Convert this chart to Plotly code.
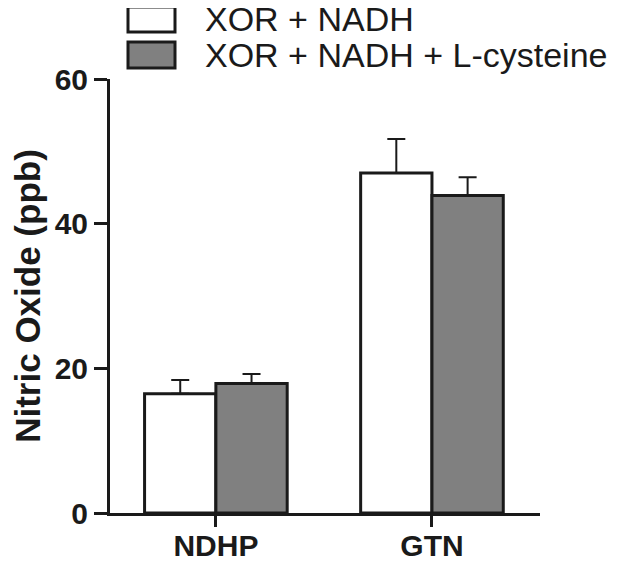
import plotly.graph_objects as go

categories = ["NDHP", "GTN"]
series_names = ["XOR + NADH", "XOR + NADH + L-cysteine"]
xor_nadh = [16.5, 47.0]
xor_nadh_err = [1.9, 4.7]
xor_nadh_cys = [17.9, 43.9]
xor_nadh_cys_err = [1.3, 2.5]
y_ticks = [0, 20, 40, 60]

# page body has an 8px margin, so the figure is drawn 8px in from the window edge
OFF = 8
W, H = 625 - OFF, 569 - OFF
L, R, T, B = 110 - OFF, 85, 79 - OFF, 56
ink = "#1a1a1a"
font = "Arial, Liberation Sans, sans-serif"


def px(x, y):
    # window pixel -> paper coordinates
    x, y = x - OFF, y - OFF
    return (x - L) / (W - L - R), (H - B - y) / (H - T - B)


fig = go.Figure()
fills = ["white", "#808080"]
vals = [xor_nadh, xor_nadh_cys]
errs = [xor_nadh_err, xor_nadh_cys_err]
for name, v, e, c in zip(series_names, vals, errs, fills):
    fig.add_bar(
        x=categories, y=v, name=name,
        marker=dict(color=c, line=dict(color=ink, width=3)),
        error_y=dict(type="data", array=e, arrayminus=[0] * len(e), symmetric=False,
                     color=ink, thickness=2, width=9),
        showlegend=False,
    )

# legend drawn by hand so the boxes get the reference size
rows = [(7, 32), (42, 68)]
for (y0, y1), name, c in zip(rows, series_names, fills):
    a0, b0 = px(128, y1)
    a1, b1 = px(175, y0)
    fig.add_shape(type="rect", xref="paper", yref="paper", x0=a0, x1=a1, y0=b0, y1=b1,
                  fillcolor=c, line=dict(color=ink, width=3))
    tx, ty = px(203, (y0 + y1) / 2)
    fig.add_annotation(xref="paper", yref="paper", x=tx, y=ty, text=name, showarrow=False,
                       xanchor="left", yanchor="middle",
                       font=dict(family=font, size=34, color=ink))

fig.update_layout(
    width=W, height=H,
    margin=dict(l=L, r=R, t=T, b=B),
    paper_bgcolor="white", plot_bgcolor="white",
    barmode="group", bargap=0.34, bargroupgap=0,
    font=dict(family=font, color=ink),
)
fig.update_xaxes(
    type="category", range=[-0.49, 1.5], automargin=False,
    showline=True, linecolor=ink, linewidth=3,
    ticks="outside", ticklen=11, tickwidth=3, tickcolor=ink,
    tickfont=dict(size=30, family=font, weight="bold"),
    ticklabelstandoff=-7,
    showgrid=False, zeroline=False,
)
fig.update_yaxes(
    range=[0, 60], tickvals=y_ticks, automargin=False,
    showline=True, linecolor=ink, linewidth=3,
    ticks="outside", ticklen=13, tickwidth=3, tickcolor=ink,
    tickfont=dict(size=30, family=font, weight="bold"),
    showgrid=False, zeroline=False,
    title=dict(text="Nitric Oxide (ppb)", standoff=18,
               font=dict(size=35, family=font, weight="bold")),
)

fig.write_html("out.html")
